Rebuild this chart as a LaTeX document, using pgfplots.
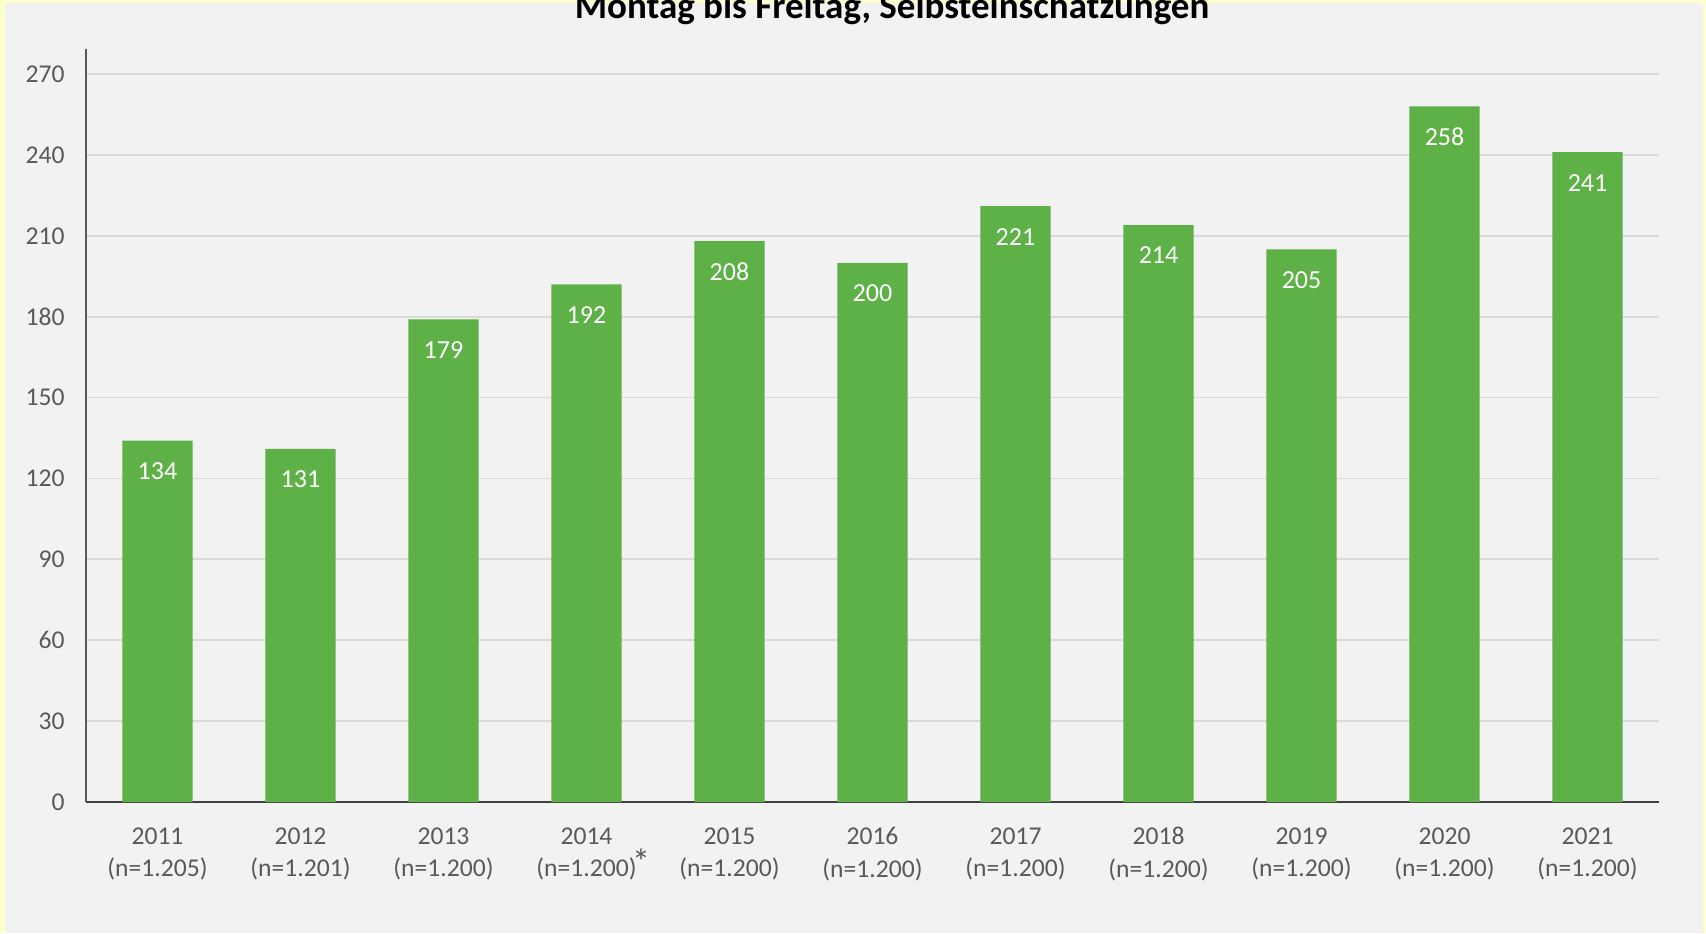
\documentclass[border=0pt]{standalone}
\usepackage{fontspec}
\setmainfont{Carlito}
\usepackage{pgfplots}
\pgfplotsset{compat=1.18}
\definecolor{bargreen}{HTML}{5EB146}
\definecolor{bggray}{HTML}{F2F2F2}
\definecolor{bordery}{HTML}{FFFFCC}
\definecolor{ticktext}{HTML}{595959}
\definecolor{gridc}{HTML}{D9D9D9}
\begin{document}
\begin{tikzpicture}
\path[use as bounding box] (0,0) rectangle (853pt,466.5pt);
\clip (0,0) rectangle (853pt,466.5pt);
\fill[bordery] (0,0) rectangle (853pt,466.5pt);
\fill[bggray] (2.7pt,0) rectangle (851.5pt,465pt);
\node[anchor=base, font=\fontsize{18.5}{22}\selectfont\bfseries, text=black] at (446pt,457.3pt) {Montag bis Freitag, Selbsteinschätzungen};
\begin{axis}[
  at={(43pt,65.5pt)}, anchor=south west,
  scale only axis, width=786.5pt, height=376.5pt,
  ybar, bar width=0.49,
  xmin=-0.5, xmax=10.5, ymin=0, ymax=279.3,
  xtick=data,
  xticklabels={{2011\\(n=1.205)},{2012\\(n=1.201)},{2013\\(n=1.200)},{2014\\(n=1.200)\rlap{\kern-2.2pt\raisebox{1.2pt}{\fontsize{18}{18}\selectfont *}}},{2015\\(n=1.200)},{2016\\(n=1.200)},{2017\\(n=1.200)},{2018\\(n=1.200)},{2019\\(n=1.200)},{2020\\(n=1.200)},{2021\\(n=1.200)}},
  ytick={0,30,...,270},
  major tick length=0pt,
  /pgf/number format/assume math mode=true,
  axis x line=bottom, axis y line=left,
  x axis line style={-, draw=black!75, line width=1pt},
  y axis line style={-, draw=ticktext, line width=1pt},
  ymajorgrids, grid style={draw=gridc, line width=0.9pt},
  xticklabel style={align=center, anchor=north, yshift=-9.2pt, text=ticktext, font=\fontsize{12.8}{16.2}\selectfont},
  yticklabel style={anchor=east, xshift=-7.2pt, text=ticktext, font=\fontsize{12.8}{15}\selectfont},
  nodes near coords,
  every node near coord/.append style={anchor=center, yshift=-15.2pt, text=white, font=\fontsize{13}{15}\selectfont},
]
\addplot[fill=bargreen, draw=none] coordinates {(0,134) (1,131) (2,179) (3,192) (4,208) (5,200) (6,221) (7,214) (8,205) (9,258) (10,241)};
\end{axis}
\end{tikzpicture}
\end{document}
